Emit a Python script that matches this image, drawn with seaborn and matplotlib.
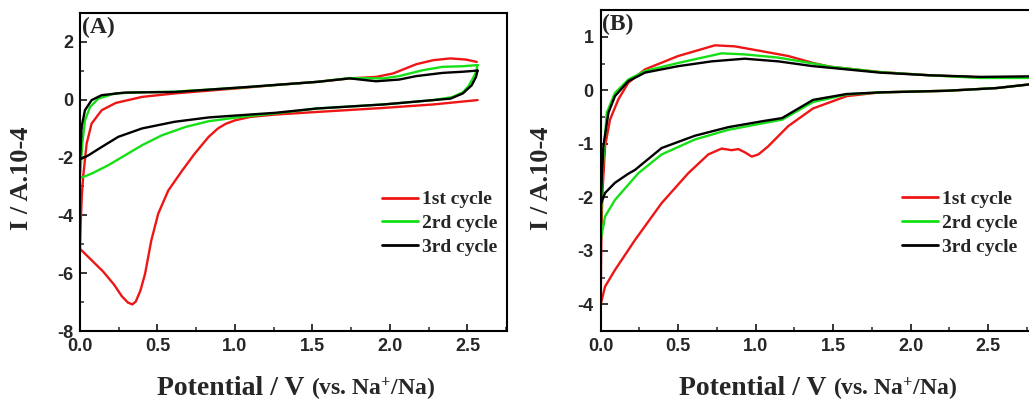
import numpy as np
import pandas as pd
import matplotlib
matplotlib.use("Agg")
import matplotlib.pyplot as plt
import seaborn as sns
from matplotlib.ticker import MultipleLocator
from matplotlib.offsetbox import TextArea, HPacker, AnnotationBbox

# ---------------- data ----------------
cycle_labels = ["1st cycle", "2rd cycle", "3rd cycle"]
cycle_colors = ["#ee1515", "#15e015", "#000000"]

# Panel A
a1_x = [2.565, 2.28, 1.96, 1.53, 1.26, 1.10, 1.0, 0.94, 0.89, 0.83, 0.74, 0.66, 0.57, 0.505,
        0.46, 0.42, 0.39, 0.36, 0.338, 0.31, 0.27, 0.22, 0.15, 0.097, 0.0,
        0.005, 0.012, 0.02, 0.043, 0.075, 0.14, 0.23, 0.40, 0.61, 1.0, 1.26, 1.53, 1.74,
        1.91, 2.02, 2.17, 2.28, 2.39, 2.49, 2.56]
a1_y = [-0.02, -0.17, -0.29, -0.43, -0.52, -0.60, -0.72, -0.84, -1.0, -1.29, -1.87, -2.45, -3.14, -3.94,
        -4.87, -6.02, -6.6, -6.98, -7.08, -7.02, -6.8, -6.4, -5.95, -5.67, -5.16,
        -4.2, -3.3, -2.68, -1.52, -0.83, -0.37, -0.12, 0.09, 0.21, 0.38, 0.5, 0.61, 0.73,
        0.78, 0.9, 1.22, 1.36, 1.42, 1.38, 1.30]

a2_x = [2.565, 2.555, 2.537, 2.505, 2.47, 2.4, 2.28, 1.96, 1.53, 1.26, 1.04, 0.83, 0.68,
        0.527, 0.40, 0.29, 0.183, 0.075, 0.02, 0.0,
        0.005, 0.015, 0.032, 0.065, 0.118, 0.226, 0.40, 0.61, 1.0, 1.26, 1.53, 1.74,
        1.96, 2.06, 2.21, 2.34, 2.47, 2.565]
a2_y = [1.19, 0.95, 0.75, 0.45, 0.25, 0.08, -0.02, -0.17, -0.31, -0.48, -0.6, -0.75, -0.95,
        -1.24, -1.58, -1.93, -2.27, -2.56, -2.68, -2.70,
        -2.3, -1.52, -0.72, -0.26, 0.03, 0.21, 0.25, 0.27, 0.4, 0.5, 0.61, 0.74,
        0.73, 0.81, 1.01, 1.13, 1.15, 1.19]

a3_x = [2.565, 2.555, 2.527, 2.47, 2.39, 2.28, 1.96, 1.53, 1.26, 1.04, 0.83, 0.61, 0.40,
        0.247, 0.14, 0.054, 0.0,
        0.005, 0.01, 0.032, 0.075, 0.14, 0.29, 0.61, 1.1, 1.53, 1.74, 1.91, 2.06, 2.17,
        2.34, 2.47, 2.565]
a3_y = [1.0, 0.78, 0.49, 0.21, 0.03, -0.02, -0.17, -0.31, -0.46, -0.54, -0.62, -0.77, -1.0,
        -1.29, -1.64, -1.93, -2.07,
        -1.6, -0.95, -0.37, -0.02, 0.15, 0.24, 0.26, 0.44, 0.61, 0.73, 0.63, 0.69, 0.81,
        0.92, 0.96, 1.0]

# Panel B
b1_x = [2.8, 2.55, 2.23, 1.8, 1.587, 1.37, 1.21, 1.08, 1.017, 0.974, 0.93, 0.888, 0.845,
        0.78, 0.694, 0.565, 0.393, 0.221, 0.092, 0.028, 0.0,
        0.003, 0.01, 0.028, 0.06, 0.114, 0.178, 0.286, 0.5, 0.737, 0.866, 1.04, 1.21,
        1.37, 1.48, 1.8, 2.12, 2.45, 2.8]
b1_y = [0.12, 0.04, -0.01, -0.04, -0.11, -0.34, -0.67, -1.05, -1.2, -1.24, -1.16, -1.10, -1.12,
        -1.09, -1.2, -1.55, -2.11, -2.8, -3.36, -3.67, -4.0,
        -3.0, -1.98, -1.05, -0.55, -0.17, 0.14, 0.39, 0.64, 0.84, 0.82, 0.73, 0.64,
        0.51, 0.44, 0.34, 0.28, 0.24, 0.25]

b2_x = [2.8, 2.55, 2.23, 1.8, 1.587, 1.37, 1.17, 1.04, 0.823, 0.608, 0.393, 0.243, 0.092,
        0.028, 0.0,
        0.005, 0.015, 0.039, 0.092, 0.178, 0.286, 0.5, 0.78, 0.93, 1.146, 1.37, 1.48,
        1.8, 2.12, 2.45, 2.8]
b2_y = [0.12, 0.04, -0.01, -0.04, -0.08, -0.22, -0.55, -0.62, -0.74, -0.92, -1.2, -1.55, -2.05,
        -2.36, -2.8,
        -2.0, -1.36, -0.42, -0.05, 0.2, 0.36, 0.51, 0.69, 0.67, 0.61, 0.5, 0.44,
        0.34, 0.28, 0.23, 0.23]

b3_x = [2.8, 2.55, 2.23, 1.8, 1.587, 1.37, 1.17, 1.04, 0.823, 0.608, 0.393, 0.221, 0.178,
        0.092, 0.028, 0.0,
        0.008, 0.017, 0.05, 0.092, 0.178, 0.286, 0.5, 0.716, 0.93, 1.146, 1.37, 1.48,
        1.8, 2.12, 2.45, 2.8]
b3_y = [0.12, 0.04, -0.01, -0.04, -0.07, -0.18, -0.52, -0.58, -0.69, -0.85, -1.08, -1.49, -1.56,
        -1.73, -1.92, -2.14,
        -1.6, -1.05, -0.42, -0.11, 0.17, 0.33, 0.45, 0.54, 0.59, 0.54, 0.45, 0.42,
        0.33, 0.28, 0.25, 0.26]


def make_df(xs, ys):
    frames = []
    for lab, x, y in zip(cycle_labels, xs, ys):
        frames.append(pd.DataFrame({"E": x, "I": y, "cycle": lab}))
    return pd.concat(frames, ignore_index=True)


dfA = make_df([a1_x, a2_x, a3_x], [a1_y, a2_y, a3_y])
dfB = make_df([b1_x, b2_x, b3_x], [b1_y, b2_y, b3_y])

# ---------------- style ----------------
sns.set_theme(style="ticks")
plt.rcParams.update({
    "font.family": ["Liberation Sans", "DejaVu Sans"],
    "font.weight": "bold",
    "mathtext.fontset": "custom",
    "mathtext.rm": "Liberation Serif:bold",
    "mathtext.bf": "Liberation Serif:bold",
    "mathtext.it": "Liberation Serif:italic:bold",
    "axes.linewidth": 1.5,
    "axes.edgecolor": "black",
    "xtick.direction": "in",
    "ytick.direction": "in",
})

W, H = 1029, 408
fig = plt.figure(figsize=(W / 100, H / 100), dpi=100)
axA = fig.add_axes([80 / W, 77 / H, 427 / W, 318.3 / H])
axB = fig.add_axes([600.7 / W, 77 / H, 434 / W, 321 / H])

serif_bold = dict(family="Liberation Serif", weight="bold")
palette = dict(zip(cycle_labels, cycle_colors))

for ax, df in [(axA, dfA), (axB, dfB)]:
    sns.lineplot(data=df, x="E", y="I", hue="cycle", palette=palette, sort=False,
                 estimator=None, linewidth=1.7, ax=ax)
    ax.set_xlabel("")
    ax.set_ylabel("")
    ax.xaxis.set_major_locator(MultipleLocator(0.5))
    ax.xaxis.set_minor_locator(MultipleLocator(0.25))
    ax.tick_params(which="major", length=5, width=1.3, labelsize=13, pad=5)
    ax.tick_params(which="minor", length=3, width=1.1)
    ax.tick_params(top=False, right=False, which="both")
    for s in ax.spines.values():
        s.set_linewidth(1.5)

axA.set_xlim(0, 2.755)
axA.set_ylim(-8, 3)
axA.yaxis.set_major_locator(MultipleLocator(2))
axA.yaxis.set_minor_locator(MultipleLocator(1))
axA.set_xticks([0, 0.5, 1.0, 1.5, 2.0, 2.5])

axB.set_xlim(0, 2.8)
axB.set_ylim(-4.5, 1.5)
axB.yaxis.set_major_locator(MultipleLocator(1))
axB.yaxis.set_minor_locator(MultipleLocator(0.5))
axB.set_xticks([0, 0.5, 1.0, 1.5, 2.0, 2.5])

for ax in (axA, axB):
    ax.set_xticklabels(["0.0", "0.5", "1.0", "1.5", "2.0", "2.5"], fontweight="bold")
axA.set_yticks([-8, -6, -4, -2, 0, 2])
axA.set_yticklabels(["-8", "-6", "-4", "-2", "0", "2"], fontweight="bold")
axB.set_yticks([-4, -3, -2, -1, 0, 1])
axB.set_yticklabels(["-4", "-3", "-2", "-1", "0", "1"], fontweight="bold")

# legends
leg_kw = dict(frameon=False, title=None, handlelength=1.87, handletextpad=0.2,
              labelspacing=0.32, borderaxespad=0, borderpad=0,
              prop=dict(family="Liberation Serif", weight="bold", size=14))
sns.move_legend(axA, "center left", bbox_to_anchor=(0.707, 0.338), **leg_kw)
sns.move_legend(axB, "center left", bbox_to_anchor=(0.6935, 0.3355), **leg_kw)
for ax in (axA, axB):
    for ln in ax.get_legend().get_lines():
        ln.set_linewidth(2.0)

# panel labels
axA.text(0.004, 0.988, "(A)", transform=axA.transAxes, ha="left", va="top",
         fontsize=17, **serif_bold)
axB.text(0.004, 0.988, "(B)", transform=axB.transAxes, ha="left", va="top",
         fontsize=17, **serif_bold)

# y labels
for xpix in (22, 542):
    fig.text(xpix / W, 1 - 178.5 / H, "I / A.10-4", rotation=90, ha="center",
             va="center", fontsize=19, **serif_bold)

# x labels
for xpix in (296, 818):
    box = HPacker(children=[
        TextArea("Potential / V ", textprops=dict(fontsize=20, **serif_bold)),
        TextArea("(vs. Na$^{+}$/Na)", textprops=dict(fontsize=17, **serif_bold)),
    ], align="baseline", pad=0, sep=0)
    ab = AnnotationBbox(box, (xpix / W, 19 / H), xycoords="figure fraction",
                        frameon=False, box_alignment=(0.5, 0.5), annotation_clip=False)
    fig.add_artist(ab)

fig.savefig("out.png", dpi=100)
